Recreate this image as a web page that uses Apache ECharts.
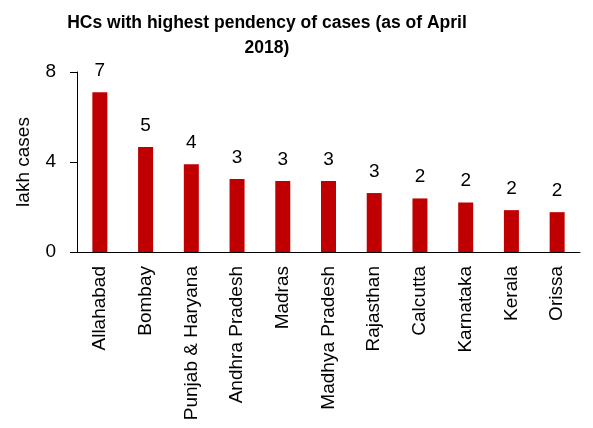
<!DOCTYPE html>
<html>
<head>
<meta charset="utf-8">
<script src="https://cdn.jsdelivr.net/npm/echarts@6/dist/echarts.min.js"></script>
<style>
  html, body { margin: 0; padding: 0; background: #fff; }
  #chart { width: 593px; height: 428px; }
</style>
</head>
<body>
<div id="chart"></div>
<script>
// high courts with the most pending cases, lakh cases (April 2018)
const courts = ['Allahabad', 'Bombay', 'Punjab & Haryana', 'Andhra Pradesh', 'Madras',
  'Madhya Pradesh', 'Rajasthan', 'Calcutta', 'Karnataka', 'Kerala', 'Orissa'];
const pending = [7.1, 4.67, 3.9, 3.24, 3.16, 3.16, 2.62, 2.38, 2.2, 1.86, 1.77];
const yTicks = [0, 4, 8];

const FONT = '"Liberation Sans", Arial, sans-serif';

const chart = echarts.init(document.getElementById('chart'));

chart.setOption({
  animation: false,
  title: {
    text: 'HCs with highest pendency of cases (as of April\n2018)',
    left: 262,
    top: 6,
    textAlign: 'center',
    textStyle: {
      fontFamily: FONT,
      fontWeight: 'bold',
      fontSize: 17.5,
      lineHeight: 25,
      color: '#000'
    }
  },
  grid: { left: 77, right: 13, top: 72, bottom: 176, outerBoundsMode: 'none' },
  xAxis: {
    type: 'category',
    data: courts,
    axisLine: { lineStyle: { color: '#000', width: 1 } },
    axisTick: { alignWithLabel: true, length: 5, lineStyle: { color: '#000' } },
    axisLabel: {
      rotate: 90,
      interval: 0,
      margin: 14,
      color: '#000',
      fontFamily: FONT,
      fontSize: 19
    }
  },
  yAxis: {
    type: 'value',
    min: yTicks[0],
    max: yTicks[yTicks.length - 1],
    interval: 4,
    name: 'lakh cases',
    nameLocation: 'middle',
    nameGap: 44,
    nameTextStyle: { fontFamily: FONT, fontSize: 19, color: '#000' },
    axisLine: { show: true, lineStyle: { color: '#000', width: 1 } },
    axisTick: { show: true, length: 7, lineStyle: { color: '#000' } },
    splitLine: { show: false },
    axisLabel: {
      margin: 21,
      color: '#000',
      fontFamily: FONT,
      fontSize: 19
    }
  },
  series: [{
    type: 'bar',
    data: pending,
    barWidth: 15,
    itemStyle: { color: '#C00000' },
    label: {
      show: true,
      position: 'top',
      distance: 12,
      color: '#000',
      fontFamily: FONT,
      fontSize: 19,
      formatter: p => Math.round(p.value)
    }
  }]
});
</script>
</body>
</html>
